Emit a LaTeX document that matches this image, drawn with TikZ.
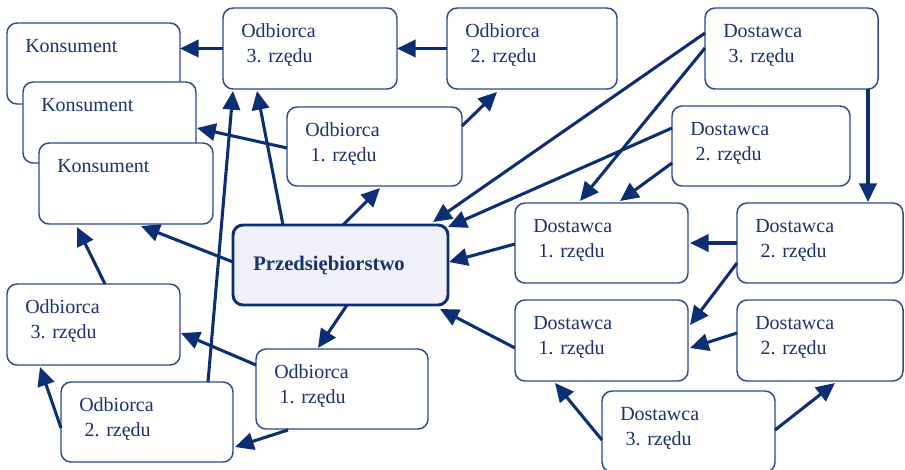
\documentclass[tikz,border=0pt]{standalone}
\usepackage{fontspec}
\setmainfont{Liberation Serif}
\usetikzlibrary{arrows.meta,calc}
\definecolor{navy}{HTML}{0C2F74}
\definecolor{boxline}{HTML}{2D4A8C}
\definecolor{ink}{HTML}{1B326C}
\definecolor{mist}{HTML}{F0F1F8}
\tikzset{
  unit box/.style={draw=boxline, line width=1.1pt, rounded corners=7.5pt, fill=white,
                   inner sep=0pt, outer sep=0pt, anchor=north west},
  hub box/.style={unit box, draw=navy, line width=2.2pt, fill=mist},
  caption/.style={inner sep=0pt, anchor=base west, text=ink,
                  font=\fontsize{15}{18.75}\selectfont},
  flow/.style={draw=navy, line width=2.3pt, -{Triangle[length=14pt,width=13pt]}},
}
% two-line label, second line indented by a space
\newcommand\twolines[2]{\vtop{\hbox{#1}\hbox{\hspace{4pt}#2}}}
% box with its caption: [style]{name}{x1}{y1}{x2}{y2}{text}
\newcommand\place[7][unit box]{%
  \node[#1, minimum width={(#5-#3)*0.75pt}, minimum height={(#6-#4)*0.75pt}] (#2) at (#3,#4) {};
  \node[caption] (#2-t) at ($(#2.north west)+(18,29)$) {#7};
}
\begin{document}
\begin{tikzpicture}[x=0.75pt, y=-0.75pt]
\useasboundingbox (0,0) rectangle (905,469);

% consumers (stacked)
\place{konA}{7}{23}{180}{104}{Konsument}
\place{konB}{23}{82}{196}{163}{Konsument}
\place{konC}{39}{143}{213}{224}{Konsument}

% customers, upper chain
\place{odb3t}{223}{8}{397}{89}{\twolines{Odbiorca}{3. rzędu}}
\place{odb2t}{447}{8}{617}{89}{\twolines{Odbiorca}{2. rzędu}}
\place{odb1t}{287}{107}{462}{186}{\twolines{Odbiorca}{1. rzędu}}

% customers, lower chain
\place{odb3l}{7}{284}{180}{365}{\twolines{Odbiorca}{3. rzędu}}
\place{odb2b}{61}{382}{233}{462}{\twolines{Odbiorca}{2. rzędu}}
\place{odb1b}{256}{349}{428}{429}{\twolines{Odbiorca}{1. rzędu}}

% suppliers
\place{dos3t}{705}{8}{878}{89}{\twolines{Dostawca}{3. rzędu}}
\place{dos2m}{672}{106}{850}{186}{\twolines{Dostawca}{2. rzędu}}
\place{dos1u}{515}{203}{688}{283}{\twolines{Dostawca}{1. rzędu}}
\place{dos2u}{737}{203}{903}{283}{\twolines{Dostawca}{2. rzędu}}
\place{dos1l}{515}{300}{688}{381}{\twolines{Dostawca}{1. rzędu}}
\place{dos2l}{737}{300}{903}{381}{\twolines{Dostawca}{2. rzędu}}
\place{dos3b}{602}{391}{775}{472}{\twolines{Dostawca}{3. rzędu}}

% the enterprise
\node[hub box, minimum width={215*0.75pt}, minimum height={80*0.75pt}] (przed) at (233,225) {};
\node[caption, font=\fontsize{15.5}{18.75}\selectfont\bfseries] (przed-t)
  at ($(przed.north west)+(20,45)$) {Przedsiębiorstwo};

% downstream flows
\draw[flow] (odb3t.west) -- (odb3t.west -| konA.east);
\draw[flow] (odb2t.west) -- (odb2t.west -| odb3t.east);
\draw[flow] ($(odb1t.north east)+(0,19)$) -- ($(odb2t.south west)+(50,3)$);
\draw[flow] ($(odb1t.north west)+(0,41)$) -- ($(konB.north east)+(1,46)$);
\draw[flow] ($(przed.north west)+(110,0)$) -- ($(odb1t.south west)+(93,2)$);
\draw[flow] ($(przed.north west)+(50,0)$) -- ($(odb3t.south west)+(34,2)$);
\draw[flow] ($(odb2b.north west)+(147,0)$) -- ($(odb3t.south west)+(10,2)$);
\draw[flow] ($(przed.north west)+(0,37)$) -- ($(konC.south west)+(102,2)$);
\draw[flow] ($(odb3l.north west)+(98,0)$) -- ($(konC.south west)+(38,3)$);
\draw[flow] ($(odb2b.north west)+(0,46)$) -- ($(odb3l.south west)+(33,2)$);
\draw[flow] ($(odb1b.north west)+(0,16)$) -- ($(odb3l.north east)+(1,49)$);
\draw[flow] ($(odb1b.south west)+(32,1)$) -- ($(odb2b.north east)+(2,65)$);
\draw[flow] ($(przed.south west)+(114,0)$) -- ($(odb1b.north west)+(62,-1)$);

% upstream flows
\draw[flow] ($(dos1l.north west)+(0,48)$) -- ($(przed.south east)+(-8,4)$);
\draw[flow] ($(dos1u.north west)+(0,41)$) -- ($(przed.north east)+(1,37)$);
\draw[flow] ($(dos3t.north west)+(0,25)$) -- ($(przed.north east)+(-15,-3)$);
\draw[flow] ($(dos2m.north west)+(0,22)$) -- ($(przed.north east)+(0,2)$);
\draw[flow] ($(dos3t.north west)+(0,40)$) -- ($(dos1u.north west)+(65,-2)$);
\draw[flow] ($(dos2m.north west)+(0,57)$) -- ($(dos1u.north west)+(105,-2)$);
\coordinate (drop) at ($(dos3t.south east)+(-10,0)$);
\draw[flow] (drop) -- ($(drop |- dos2u.north)+(0,-1)$);
\draw[flow] (dos2u.west) -- ($(dos2u.west -| dos1u.east)+(2,0)$);
\draw[flow] ($(dos2u.north west)+(0,60)$) -- ($(dos1l.north east)+(2,25)$);
\draw[flow] ($(dos2l.north west)+(0,33)$) -- ($(dos1l.north east)+(2,48)$);
\draw[flow] ($(dos3b.north west)+(0,49)$) -- ($(dos1l.south west)+(40,2)$);
\draw[flow] ($(dos3b.north east)+(0,39)$) -- ($(dos2l.south west)+(98,2)$);
\end{tikzpicture}
\end{document}
